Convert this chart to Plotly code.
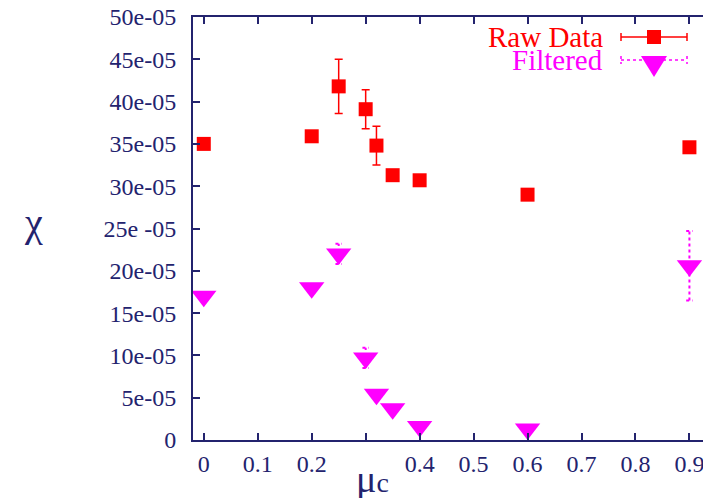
import plotly.graph_objects as go

# chi values are in units of 1e-05
mu_c = [0.0, 0.2, 0.25, 0.3, 0.32, 0.35, 0.4, 0.6, 0.9]
chi_raw = [35.0, 35.9, 41.8, 39.1, 34.8, 31.3, 30.7, 29.0, 34.6]
err_raw = [0, 0, 3.2, 2.3, 2.3, 0, 0, 0, 0]
chi_filt = [17.0, 18.0, 22.0, 9.7, 5.4, 3.7, 1.6, 1.3, 20.6]
err_filt = [0, 0, 1.2, 1.2, 0, 0, 0, 0, 4.1]

y_ticks = [0, 5, 10, 15, 20, 25, 30, 35, 40, 45, 50]
y_labels = ["0", "5e-05", "10e-05", "15e-05", "20e-05", "25e -05", "30e-05", "35e-05",
            "40e-05", "45e-05", "50e-05"]
x_ticks = [0, 0.1, 0.2, 0.3, 0.4, 0.5, 0.6, 0.7, 0.8, 0.9]
x_labels = ["0", "0.1", "0.2", "", "0.4", "0.5", "0.6", "0.7", "0.8", "0.9"]

RED = "#ff0000"
MAG = "#ff00ff"
NAVY = "#23236e"
FONT = "Liberation Serif"

# page has an 8px body margin, so the figure is a bit smaller than the window
OFF = 8
W, H = 703, 490
L, R, T, B = 185, 0, 9, 58
PW, PH = W - L - R, H - T - B


def px(x):  # window pixel -> paper x
    return (x - OFF - L) / PW


def py(y):  # window pixel -> paper y
    return (H - B - (y - OFF)) / PH


# dotted error bars for the filtered data
cap = 0.006
ex, ey = [], []
for x, y, e in zip(mu_c, chi_filt, err_filt):
    if e > 0:
        ex += [x, x, None, x - cap, x + cap, None, x - cap, x + cap, None]
        ey += [y - e, y + e, None, y + e, y + e, None, y - e, y - e, None]

fig = go.Figure()
fig.add_trace(go.Scatter(x=ex, y=ey, mode="lines", line=dict(color=MAG, width=2, dash="dot"),
                         showlegend=False, hoverinfo="skip", cliponaxis=False))
fig.add_trace(go.Scatter(x=mu_c, y=chi_filt, mode="markers", name="Filtered", cliponaxis=False,
                         marker=dict(symbol="triangle-down", size=22, color=MAG)))
fig.add_trace(go.Scatter(x=mu_c, y=chi_raw, mode="markers", name="Raw Data", cliponaxis=False,
                         marker=dict(symbol="square", size=14, color=RED),
                         error_y=dict(type="data", array=err_raw, color=RED, thickness=1.5, width=4)))

# legend drawn by hand (text left, sample right, as gnuplot does)
shapes = []
annos = []
for label, col, yc, dash in [("Raw Data", RED, 37, "solid"), ("Filtered", MAG, 60, "dot")]:
    annos.append(dict(x=px(605), y=py(yc), xref="paper", yref="paper", text=label,
                      showarrow=False, xanchor="right", yanchor="middle",
                      font=dict(family=FONT, size=29, color=col)))
    shapes.append(dict(type="line", xref="paper", yref="paper", x0=px(621), x1=px(687),
                       y0=py(yc), y1=py(yc), line=dict(color=col, width=1.5, dash=dash)))
    for xc in (621, 687):
        shapes.append(dict(type="line", xref="paper", yref="paper", x0=px(xc), x1=px(xc),
                           y0=py(yc - 4), y1=py(yc + 4), line=dict(color=col, width=1.5, dash=dash)))
shapes.append(dict(type="rect", xref="paper", yref="paper", x0=px(647), x1=px(661),
                   y0=py(30), y1=py(44), fillcolor=RED, line=dict(width=0)))
shapes.append(dict(type="path", xref="paper", yref="paper",
                   path=f"M {px(641)},{py(56)} L {px(667)},{py(56)} L {px(654)},{py(77)} Z",
                   fillcolor=MAG, line=dict(width=0)))

annos.append(dict(x=px(372), y=py(479), xref="paper", yref="paper",
                  text="μ<span style='font-size:28px'>c</span>", showarrow=False,
                  xanchor="center", yanchor="middle", font=dict(family=FONT, size=38, color=NAVY)))
annos.append(dict(x=px(33), y=py(222), xref="paper", yref="paper", text="χ", showarrow=False,
                  xanchor="center", yanchor="middle", font=dict(family=FONT, size=40, color=NAVY)))

axis_common = dict(showgrid=False, zeroline=False, showline=True, linecolor=NAVY, linewidth=2,
                   ticks="inside", ticklen=7, tickwidth=1.5, tickcolor=NAVY, mirror="allticks",
                   automargin=False, ticklabeloverflow="allow",
                   tickfont=dict(family=FONT, size=24, color=NAVY))

fig.update_layout(
    width=W, height=H, margin=dict(l=L, r=R, t=T, b=B, autoexpand=False),
    plot_bgcolor="white", paper_bgcolor="white", showlegend=False,
    xaxis=dict(range=[-0.02, 0.94], tickmode="array", tickvals=x_ticks, ticktext=x_labels,
               ticklabelstandoff=1, **axis_common),
    yaxis=dict(range=[0, 50], tickmode="array", tickvals=y_ticks, ticktext=y_labels,
               ticklabelstandoff=10, **axis_common),
    shapes=shapes, annotations=annos,
)

fig.write_html("out.html")
